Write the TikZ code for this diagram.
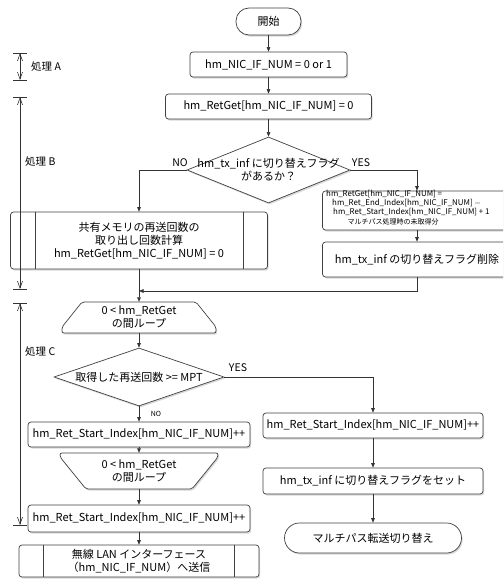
\documentclass[tikz,border=0pt]{standalone}
\usepackage{fontspec}
\setmainfont{Noto Sans CJK JP}
\usetikzlibrary{arrows.meta,shapes.geometric,shadows}
\begin{document}
\begin{tikzpicture}[x=1pt,y=-1pt,
  font=\fontsize{11}{13}\selectfont,
  shad/.style={drop shadow={shadow xshift=1.2pt,shadow yshift=-1.6pt,opacity=0.3}},
  box/.style={draw=black!75,line width=0.7pt,rounded corners=3pt,fill=white,inner sep=0pt,align=center,shad},
  term/.style={box,rounded corners=13pt},
  dia/.style={shape=diamond,draw=black!75,line width=0.7pt,fill=white,inner sep=0pt,shad},
  loopshape/.style={draw=black!75,line width=0.7pt,fill=white,shad,rounded corners=2pt},
  conn/.style={draw=black!80,line width=0.6pt,-{Triangle[length=4.5pt,width=3.6pt]}},
  ann/.style={draw=black!80,line width=0.6pt},
  annarrow/.style={ann,{Straight Barb[length=7pt,width=5pt]}-{Straight Barb[length=7pt,width=5pt]}},
  lbl/.style={inner sep=0pt},
  tag/.style={inner sep=0pt,font=\fontsize{10.5}{12}\selectfont},
  small/.style={font=\fontsize{7.9}{9}\selectfont,inner sep=0pt},
]
\useasboundingbox (0,0) rectangle (503,580);
\clip (0,0) rectangle (503,580);

% ---- main column ----
\node[term,minimum width=65pt,minimum height=27pt] (start) at (268.5,21.5) {開始};
\node[box,minimum width=157pt,minimum height=25pt] (b1) at (268.5,64.5) {hm\_NIC\_IF\_NUM = 0 or 1};
\node[box,minimum width=206pt,minimum height=25pt] (b2) at (268.5,106.5) {hm\_RetGet[hm\_NIC\_IF\_NUM] = 0};
\node[dia,minimum width=163pt,minimum height=66pt] (d1) at (268.5,170) {};
\node[lbl,align=center] (d1t) at (d1) {hm\_tx\_inf に切り替えフラグ\\があるか？};

% left predefined process
\node[box,minimum width=257pt,minimum height=57pt] (p1) at (139,240.5) {共有メモリの再送回数の\\取り出し回数計算\\hm\_RetGet[hm\_NIC\_IF\_NUM] = 0};
\draw[black!75,line width=0.7pt] ([xshift=25pt]p1.north west) -- ([xshift=25pt]p1.south west);
\draw[black!75,line width=0.7pt] ([xshift=-25pt]p1.north east) -- ([xshift=-25pt]p1.south east);

% right boxes
\node[box,minimum width=189pt,minimum height=39pt] (ra) at (417,210.5) {};
\node[small,anchor=west] (ra1) at (326,194.5) {hm\_RetGet[hm\_NIC\_IF\_NUM] =};
\node[small,anchor=west] (ra2) at (332,203.5) {hm\_Ret\_End\_Index[hm\_NIC\_IF\_NUM] $-$};
\node[small,anchor=west] (ra3) at (333,212.5) {hm\_Ret\_Start\_Index[hm\_NIC\_IF\_NUM] + 1};
\node[lbl,font=\fontsize{7}{8}\selectfont] (ra4) at (393,222) {マルチパス処理時の未取得分};
\node[box,minimum width=189pt,minimum height=35pt] (rb) at (417,259.5) {hm\_tx\_inf の切り替えフラグ削除};

\coordinate (merge) at (139,291);

% loop 1
\path[loopshape] (82,302) -- (196,302) -- (216,327) -- (216,333) -- (62,333) -- (62,327) -- cycle;
\node[lbl,minimum width=154pt,minimum height=31pt,align=center] (l1) at (139,317.5) {0 < hm\_RetGet\\の間ループ};

\node[dia,minimum width=170pt,minimum height=58pt] (d2) at (139,377) {};
\node[lbl] (d2t) at (d2) {取得した再送回数 >= MPT};

\node[box,minimum width=222pt,minimum height=25pt] (L1) at (139,434.5) {hm\_Ret\_Start\_Index[hm\_NIC\_IF\_NUM]++};

% loop 2
\path[loopshape] (60,453) -- (218,453) -- (218,457) -- (192,489) -- (86,489) -- (60,457) -- cycle;
\node[lbl,minimum width=158pt,minimum height=36pt,align=center] (l2) at (139,471) {0 < hm\_RetGet\\の間ループ};

\node[box,minimum width=222pt,minimum height=27pt] (L2) at (139,518.5) {hm\_Ret\_Start\_Index[hm\_NIC\_IF\_NUM]++};
\node[box,minimum width=240pt,minimum height=32pt,font=\fontsize{11}{12.5}\selectfont] (p2) at (139,561) {無線 LAN インターフェース\\（hm\_NIC\_IF\_NUM）へ送信};
\draw[black!75,line width=0.7pt] ([xshift=25pt]p2.north west) -- ([xshift=25pt]p2.south west);
\draw[black!75,line width=0.7pt] ([xshift=-25pt]p2.north east) -- ([xshift=-25pt]p2.south east);

% right column
\node[box,minimum width=220pt,minimum height=25pt] (r1) at (373,425.5) {hm\_Ret\_Start\_Index[hm\_NIC\_IF\_NUM]++};
\node[box,minimum width=220pt,minimum height=26pt] (r2) at (373,481) {hm\_tx\_inf に切り替えフラグをセット};
\node[term,minimum width=177pt,minimum height=30pt,rounded corners=15pt] (end) at (373,538) {マルチパス転送切り替え};

% connectors
\draw[conn] (start) -- (b1);
\draw[conn] (b1) -- (b2);
\draw[conn] (b2) -- (d1);
\draw[conn] (d1.west) -| (p1.north);
\draw[conn] (d1.east) -| (ra.north);
\draw[conn] (ra) -- (rb);
\draw[conn] (rb.south) |- (merge);
\draw[conn] (p1.south) -- (l1.north);
\draw[conn] (l1.south) -- (d2.north);
\draw[conn] (d2.east) -| (r1.north);
\draw[conn] (d2.south) -- (L1.north);
\draw[conn] (L1.south) -- (l2.north);
\draw[conn] (l2.south) -- (L2.north);
\draw[conn] (L2.south) -- (p2.north);
\draw[conn] (r1) -- (r2);
\draw[conn] (r2) -- (end);

% branch labels
\node[tag] (no1) at (180,163) {NO};
\node[tag] (yes1) at (361,163) {YES};
\node[tag] (yes2) at (238,368) {YES};
\node[lbl,font=\fontsize{7}{8}\selectfont] (no2) at (156,414) {NO};

% annotations
\coordinate (aT) at (20,53); \coordinate (aB) at (20,80);
\coordinate (bT) at (20,97); \coordinate (bB) at (20,289);
\coordinate (cT) at (20,303); \coordinate (cB) at (20,525);
\foreach \c in {aT,aB,bT,bB,cT,cB} \draw[ann] ([xshift=-7pt]\c) -- ([xshift=7pt]\c);
\draw[annarrow] (aT) -- (aB);
\draw[annarrow] (bT) -- (bB);
\draw[annarrow] (cT) -- (cB);
\node[tag,anchor=west] (la) at (31,67) {処理 A};
\node[tag,anchor=west] (lb) at (25,162) {処理 B};
\node[tag,anchor=west] (lc) at (25,352) {処理 C};
\end{tikzpicture}
\end{document}
